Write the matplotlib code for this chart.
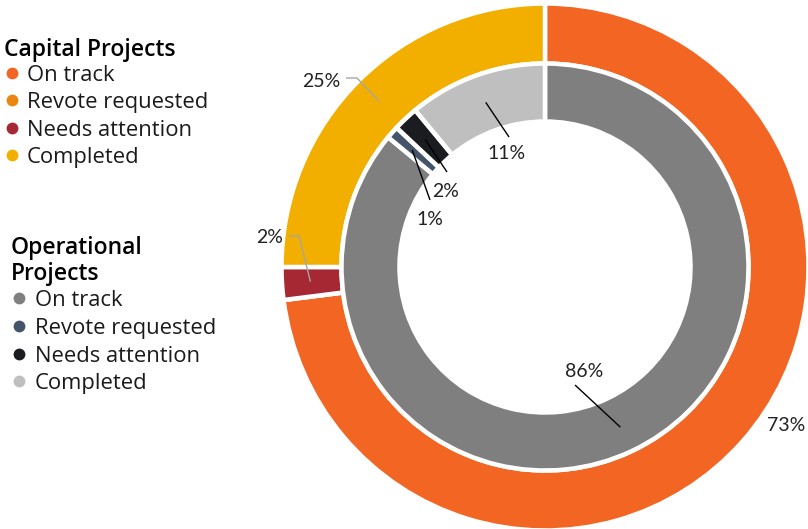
import numpy as np
import matplotlib
matplotlib.use("Agg")
import matplotlib.pyplot as plt

plt.rcParams["font.family"] = ["Open Sans", "Lato", "DejaVu Sans"]

# ---- data -------------------------------------------------------------
status = ["On track", "Revote requested", "Needs attention", "Completed"]
capital_pct = [73, 0, 2, 25]
operational_pct = [86, 1, 2, 11]

capital_colors = ["#F26522", "#E8860F", "#A52832", "#F2AF00"]
operational_colors = ["#7F7F7F", "#44546A", "#1A1C20", "#BFBFBF"]

# ---- figure in pixel units ------------------------------------------
W, H = 808, 529
fig = plt.figure(figsize=(W / 100, H / 100), dpi=100)
ax = fig.add_axes([0, 0, 1, 1])

cx, cy = 545, 262
edge_px = 4.5
edge_pt = edge_px * 72 / 100

outer_r, outer_w = 263.5, 60
inner_r, inner_w = 203.5, 58

ax.pie(capital_pct, colors=capital_colors, radius=outer_r, center=(cx, cy),
       startangle=90, counterclock=False, frame=True,
       wedgeprops=dict(width=outer_w, edgecolor="white", linewidth=edge_pt))
ax.pie(operational_pct, colors=operational_colors, radius=inner_r, center=(cx, cy),
       startangle=90, counterclock=False, frame=True,
       wedgeprops=dict(width=inner_w, edgecolor="white", linewidth=edge_pt))
ax.set_xlim(0, W)
ax.set_ylim(0, H)
ax.set_aspect("equal")
ax.axis("off")


def mid_angles(values):
    v = np.asarray(values, dtype=float)
    ends = np.cumsum(v) / v.sum() * 360.0
    starts = ends - v / v.sum() * 360.0
    return 90.0 - (starts + ends) / 2.0


def polar(angle_deg, r):
    a = np.deg2rad(angle_deg)
    return cx + r * np.cos(a), cy + r * np.sin(a)


cap_mid = mid_angles(capital_pct)
op_mid = mid_angles(operational_pct)

label_color = "#222222"
label_size = 14
label_font = ["Lato", "DejaVu Sans"]

# Percentage labels: (values, mids, index, anchor radius, leader path offsets,
#                     text offset, alignment, line colour)
labels = [
    (capital_pct, cap_mid, 0, None, None, (241, -157), "center", None),
    (capital_pct, cap_mid, 3, 235, [(-188, 189), (-199, 189)], (-205, 187), "right", "#A6A6A6"),
    (capital_pct, cap_mid, 2, 235, [(-246, 31), (-256, 31)], (-262, 31), "right", "#A6A6A6"),
    (operational_pct, op_mid, 0, 177, [(30, -118)], (39, -103), "center", "black"),
    (operational_pct, op_mid, 3, 175, [(-36, 130)], (-38, 115), "center", "black"),
    (operational_pct, op_mid, 2, 175, [(-98, 95)], (-99, 77), "center", "black"),
    (operational_pct, op_mid, 1, 177, [(-115, 67)], (-115, 49), "center", "black"),
]

for vals, mids, i, r_anchor, path, txt, ha, lc in labels:
    if r_anchor is not None:
        ax_, ay_ = polar(mids[i], r_anchor)
        xs = [ax_] + [cx + dx for dx, dy in path]
        ys = [ay_] + [cy + dy for dx, dy in path]
        ax.plot(xs, ys, color=lc, lw=1.0, solid_capstyle="butt")
    ax.text(cx + txt[0], cy + txt[1], f"{vals[i]}%", ha=ha, va="center_baseline",
            fontsize=label_size, color=label_color, family=label_font)

# ---- legends ----------------------------------------------------------
text_color = "#1a1a1a"
item_size = 15.8
title_size = 16.5
marker_size = 8.5


def legend_block(title_lines, title_x, title_ys, marker_x, text_x, item_ys, colors):
    for line, y in zip(title_lines, title_ys):
        ax.text(title_x, H - y, line, ha="left", va="center_baseline",
                fontsize=title_size, fontweight="semibold", color="black")
    for name, col, y in zip(status, colors, item_ys):
        ax.plot([marker_x], [H - y], "o", ms=marker_size, color=col, mec="none")
        ax.text(text_x, H - y, name, ha="left", va="center_baseline",
                fontsize=item_size, color=text_color)


legend_block(["Capital Projects"], 4, [47], 12, 27, [73, 100, 128, 155], capital_colors)
legend_block(["Operational", "Projects"], 11, [245, 271], 19, 35,
             [298, 326, 354, 381], operational_colors)

fig.savefig("out.png", dpi=100)
